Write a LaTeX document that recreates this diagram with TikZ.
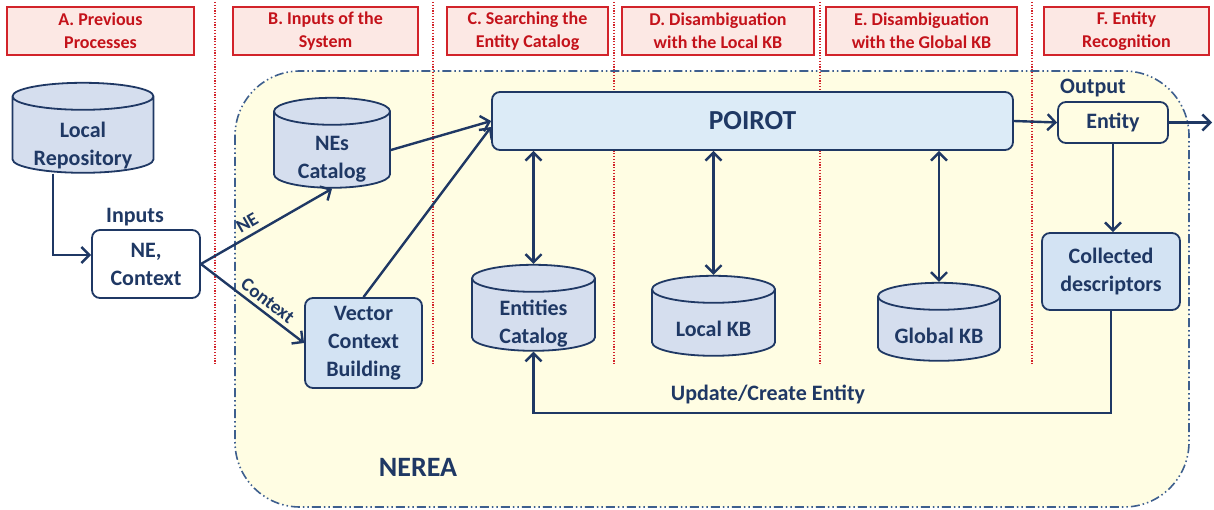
\documentclass[tikz,border=0pt]{standalone}
\usepackage{fontspec}
\setmainfont{Carlito}
\usepackage{tikz}
\usetikzlibrary{positioning, shapes.geometric, arrows.meta, backgrounds}
\definecolor{navy}{HTML}{1F3864}
\definecolor{cylfill}{HTML}{D5DEEE}
\definecolor{boxfill}{HTML}{D3E3F3}
\definecolor{poirotfill}{HTML}{DCEBF7}
\definecolor{hdrred}{HTML}{D2232A}
\definecolor{hdrtext}{HTML}{C4121A}
\definecolor{hdrfill}{HTML}{FCE8E4}
\definecolor{nereafill}{HTML}{FFFDE3}
\definecolor{nereaedge}{HTML}{3E5F8E}
\newcommand{\dbspan}{\hspace*{100pt}}
\tikzstyle{hdr}=[draw=hdrred, fill=hdrfill, line width=1.8pt, text=hdrtext, align=center, inner sep=0pt, font=\bfseries\fontsize{18}{23}\selectfont]
\tikzstyle{db}=[cylinder, shape border rotate=90, aspect=0.27, draw=navy, fill=cylfill, line width=1.8pt, inner sep=0pt]
\tikzstyle{dbtext}=[text=navy, align=center, inner sep=0pt, font=\bfseries\fontsize{22}{28}\selectfont]
\tikzstyle{proc}=[rectangle, rounded corners=8pt, draw=navy, line width=1.8pt, text=navy, align=center, inner sep=0pt, font=\bfseries\fontsize{22}{28}\selectfont]
\tikzstyle{lbl}=[text=navy, inner sep=0pt, font=\bfseries\fontsize{22}{26}\selectfont]
\tikzstyle{arr}=[->, line width=2.4pt, draw=navy]
\tikzset{>={Straight Barb[length=8pt,width=16pt]}}

\begin{document}
\begin{tikzpicture}[x=1pt, y=-1pt]
\useasboundingbox (0,0) rectangle (1214,510);
% the NEREA region
\draw[fill=nereafill, draw=nereaedge, line width=1.6pt, rounded corners=65pt,
  dash pattern=on 9pt off 3pt on 1.5pt off 3pt on 1.5pt off 3pt] (235,71) rectangle (1189,507);
\node[lbl, font=\bfseries\fontsize{28}{32}\selectfont] (nerea) at (418,467) {NEREA};
% the stage separators
\foreach \sx in {215, 433, 614, 820, 1032}
  \draw[hdrred, line width=1.2pt, dash pattern=on 1.2pt off 1.6pt] (\sx,2) -- (\sx,365);
% the six stage headers
\node[hdr, minimum width=187pt, minimum height=48pt] (hA) at (100.5,31) {A. Previous\\Processes};
\node[hdr, minimum width=185pt, minimum height=48pt] (hB) at (325.5,31) {B. Inputs of the\\System};
\node[hdr, minimum width=161pt, minimum height=48pt] (hC) at (527.5,31) {C. Searching the\\Entity Catalog};
\node[hdr, minimum width=192pt, minimum height=48pt] (hD) at (718,31) {D. Disambiguation\\with the Local KB};
\node[hdr, minimum width=191pt, minimum height=48pt] (hE) at (921.5,31) {E. Disambiguation\\with the Global KB};
\node[hdr, minimum width=165pt, minimum height=48pt] (hF) at (1126.5,31) {F. Entity\\Recognition};
% inputs
\node[db, minimum width=141pt, minimum height=90pt, label={[dbtext, yshift=-11pt]center:Local\\Repository}] (repo) at (83,135) {\dbspan};
\node[proc, fill=white, minimum width=108pt, minimum height=68pt] (nectx) at (146,264) {NE,\\Context};
\node[lbl] (inlbl) at (135,217) {Inputs};
\node[db, minimum width=116pt, minimum height=90pt, label={[dbtext, yshift=-9pt]center:NEs\\Catalog}] (nes) at (332,150) {\dbspan};
\node[proc, fill=boxfill, minimum width=117pt, minimum height=90pt] (vcb) at (363.5,343) {Vector\\Context\\Building};
% POIROT and the knowledge bases
\node[proc, fill=poirotfill, minimum width=521pt, minimum height=58pt, font=\bfseries\fontsize{27.5}{32}\selectfont] (poirot) at (752.5,121) {POIROT};
\node[db, minimum width=123pt, minimum height=86pt, label={[dbtext, yshift=-9pt]center:Entities\\Catalog}] (ents) at (533.5,315) {\dbspan};
\node[db, minimum width=123pt, minimum height=80pt, label={[dbtext, yshift=-6pt]center:Local KB}] (lkb) at (713.5,323) {\dbspan};
\node[db, minimum width=122pt, minimum height=78pt, label={[dbtext, yshift=-7pt]center:Global KB}] (gkb) at (939,329) {\dbspan};
% output
\node[proc, minimum width=110pt, minimum height=41pt] (entity) at (1113,122.5) {Entity};
\node[lbl] (outlbl) at (1093,88) {Output};
\node[proc, fill=boxfill, minimum width=138pt, minimum height=77pt] (coll) at (1111,271.5) {Collected\\descriptors};
\coordinate (out) at (1212,122.5);
\coordinate (fb) at (0,413);
% the edges
\draw[arr] ([xshift=-30pt]repo.south) |- ([yshift=9pt]nectx.west);
\draw[arr] (nectx.east) -- node[lbl, sloped, above=5pt, pos=0.4, font=\bfseries\fontsize{19}{22}\selectfont] {NE} (nes.south);
\draw[arr] (nectx.east) -- node[lbl, sloped, above=4pt, pos=0.58, font=\bfseries\fontsize{19}{22}\selectfont] {Context} (vcb.west);
\draw[arr] (nes.east) -- (poirot.west);
\draw[arr] (vcb.north) -- ([yshift=-6pt]poirot.west);
\draw[arr, <->] (poirot.south -| ents.north) -- (ents.north);
\draw[arr, <->] (poirot.south -| lkb.north) -- (lkb.north);
\draw[arr, <->] (poirot.south -| gkb.north) -- (gkb.north);
\draw[arr] (poirot.east) -- (entity.west);
\draw[arr] (entity.east) -- (out);
\draw[arr] (entity.south) -- (entity.south |- coll.north);
\draw[arr] (coll.south) -- (coll.south |- fb) -| node[lbl, pos=0.297, above=8pt] {Update/Create Entity} (ents.south);
\end{tikzpicture}
\end{document}
